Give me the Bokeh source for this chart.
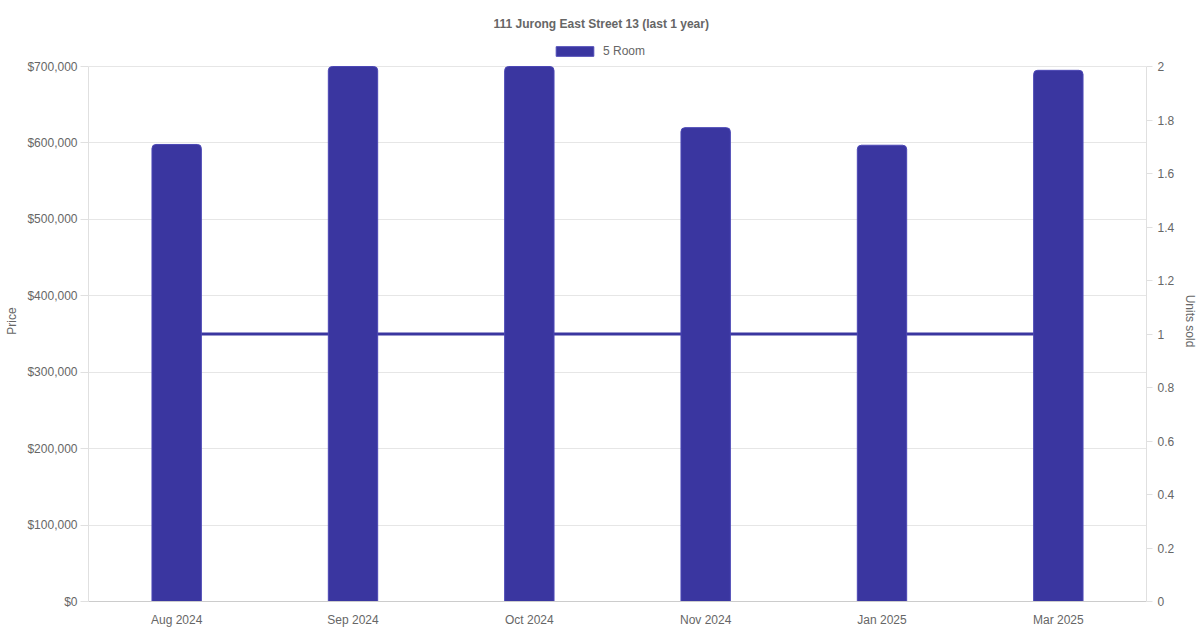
from bokeh.plotting import figure
from bokeh.models import (Range1d, LinearAxis, FixedTicker, NumeralTickFormatter,
                          CustomJSTickFormatter, Legend, LegendItem, Title, ColumnDataSource)
from bokeh.embed import file_html
from bokeh.resources import INLINE

months = ["Aug 2024", "Sep 2024", "Oct 2024", "Nov 2024", "Jan 2025", "Mar 2025"]
price = [598000, 700000, 700000, 620000, 597000, 695000]
units_sold = [1, 1, 1, 1, 1, 1]
price_ticks = [0, 100000, 200000, 300000, 400000, 500000, 600000, 700000]
unit_ticks = [0, 0.2, 0.4, 0.6, 0.8, 1, 1.2, 1.4, 1.6, 1.8, 2]
price_max = 700000
units_max = 2

FONT = "Liberation Sans"
TXT = "#666666"
BAR = "#3a36a0"

# room above the axes for the legend (frame is 561px, axes span 535px)
head = 561 / 535

src = ColumnDataSource(dict(month=months, price=price, units=units_sold))

p = figure(x_range=months, y_range=Range1d(0, price_max * head),
           width=1200, height=630,
           output_backend="svg", toolbar_location=None,
           min_border_left=88, min_border_right=54, min_border_top=40, min_border_bottom=29)
p.outline_line_color = None

p.extra_y_ranges = {"units": Range1d(0, units_max * head)}

# line behind bars
p.line("month", "units", source=src, y_range_name="units", line_color=BAR, line_width=3)
bars = p.vbar(x="month", top="price", source=src, width=0.28, fill_color=BAR,
              line_color="#4b47b5", line_width=1, border_radius=(4, 4, 0, 0))

# left axis
ya = p.yaxis[0]
ya.ticker = FixedTicker(ticks=price_ticks)
ya.formatter = NumeralTickFormatter(format="$0,0")
ya.axis_label = "Price"
ya.bounds = (0, price_max)

ra = LinearAxis(y_range_name="units", ticker=FixedTicker(ticks=unit_ticks),
                formatter=CustomJSTickFormatter(code="return String(Math.round(tick*10)/10);"),
                axis_label="Units sold", bounds=(0, units_max))
p.add_layout(ra, "right")

for ax in [ya, ra, p.xaxis[0]]:
    ax.major_label_text_font = FONT
    ax.major_label_text_font_size = "12px"
    ax.major_label_text_color = TXT
    ax.axis_label_text_font = FONT
    ax.axis_label_text_font_size = "12px"
    ax.axis_label_text_font_style = "normal"
    ax.axis_label_text_color = TXT
    ax.minor_tick_line_color = None
    ax.major_tick_line_color = "#e0e0e0"
    ax.major_tick_out = 8
    ax.major_tick_in = 0
    ax.axis_line_color = "#e0e0e0"

p.xaxis[0].axis_line_color = "#cccccc"
p.xaxis[0].major_tick_line_color = None
p.xaxis[0].major_tick_out = 0
p.xaxis[0].major_label_standoff = 11
ya.major_label_standoff = 3
ya.axis_label_standoff = 5
ra.major_tick_out = 6
ra.major_label_standoff = 5
ra.axis_label_standoff = 6

p.xgrid.grid_line_color = None
p.ygrid.grid_line_color = "#e6e6e6"

legend = Legend(items=[LegendItem(label="5 Room", renderers=[bars])],
                orientation="horizontal", location=(463, 543),
                glyph_width=47, glyph_height=12, label_height=14,
                label_text_font=FONT,
                label_text_font_size="12px", label_text_color=TXT,
                border_line_color=None, background_fill_alpha=0,
                padding=2, margin=0, spacing=6, label_standoff=5)
p.add_layout(legend, "center")

p.title = Title(text="111 Jurong East Street 13 (last 1 year)", align="left",
                text_font=FONT, text_font_size="12px", text_font_style="bold",
                text_color=TXT, offset=405, standoff=20)

open("out.html", "w").write(file_html(p, INLINE))
